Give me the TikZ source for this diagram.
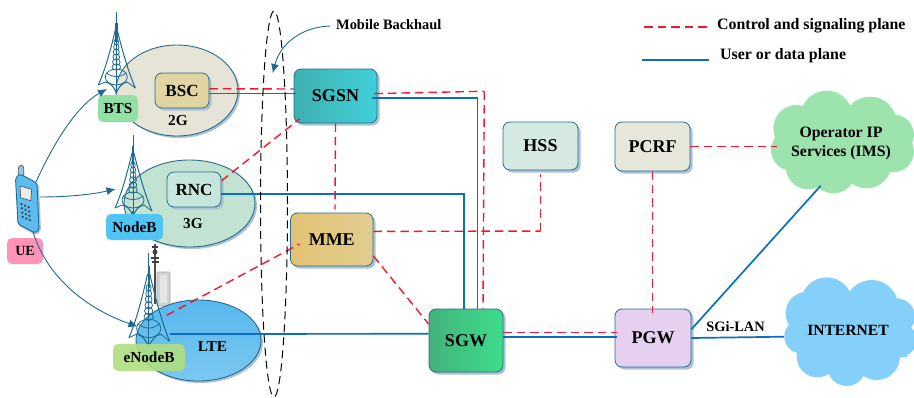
\documentclass[tikz,border=0pt]{standalone}
\usepackage{fontspec}
\setmainfont{Liberation Serif}
\usetikzlibrary{arrows.meta,shapes.geometric,shadows,calc}
\definecolor{edgeb}{HTML}{2A6A8F}
\definecolor{arrowb}{HTML}{1F6A8F}
\definecolor{redl}{HTML}{F0182A}
\definecolor{bluel}{HTML}{0A6FBE}
\definecolor{shadowb}{HTML}{A9C2D4}
\definecolor{ca}{HTML}{9DE3AE}
\definecolor{cb}{HTML}{84D0FA}
\tikzset{
  box/.style={draw=edgeb,line width=.8pt,rounded corners=7pt,inner sep=0pt,font=\fontsize{18}{20}\selectfont\bfseries,
    drop shadow={shadow xshift=2.5pt,shadow yshift=-2.5pt,fill=shadowb,opacity=1}},
  blob/.style={draw=edgeb,line width=.9pt,shape=ellipse,inner sep=0pt,
    drop shadow={shadow xshift=2pt,shadow yshift=-2pt,fill=shadowb,opacity=1}},
  tag/.style={rounded corners=5pt,inner sep=0pt,font=\fontsize{15.3}{17}\selectfont\bfseries},
  lab/.style={inner sep=0pt,font=\fontsize{15.3}{17}\selectfont\bfseries},
  small/.style={inner sep=0pt,font=\fontsize{14.4}{17}\selectfont\bfseries},
  legendtext/.style={inner sep=0pt,font=\fontsize{15.9}{18}\selectfont\bfseries},
  ctrl/.style={draw=redl,line width=1.4pt,dash pattern=on 8.5pt off 5pt},
  data/.style={draw=bluel,line width=1.7pt},
  hop/.style={draw=arrowb,line width=.9pt,-{Latex[length=9pt,width=8pt]}},
  towerline/.style={draw=arrowb,line width=.8pt},
}
\newcommand{\towerart}{%
  \draw[towerline] (0,0)--(0,81);
  \draw[arrowb,line width=2.4pt] (0,11)--(0,30);
  \draw[towerline,line width=1pt] (-1,18) .. controls (-5,35) and (-11,58) .. (-18,73);
  \draw[towerline,line width=1pt] (1,18) .. controls (5,35) and (12,60) .. (19,76);
  \foreach \yy/\rx in {30/2.2,35/2.6,40/3,45/3.4,50/3.8,55/4.3}
    \draw[towerline] (0,\yy) ellipse [x radius=\rx,y radius=3.2];
  \draw[towerline] (0,65) ellipse [x radius=11,y radius=8];
  \draw[towerline,line width=1pt] (-11,70) .. controls (-6,71) and (-3,74) .. (0,81) .. controls (3,74) and (6,71) .. (11,70);
  \draw[towerline] (-10,61) .. controls (-3,66) and (3,66) .. (10,61);
  \draw[towerline] (-11,70) -- (-18,73) (11,70)--(19,76);
  \draw[towerline,line width=1.2pt] (0,76)--(0,81);
}
\begin{document}
\begin{tikzpicture}[x=1pt,y=-1pt]
\useasboundingbox (0,0) rectangle (914,397);

% clouds
\begin{scope}[shift={(600,0)},x=.3333pt,y=-.3333pt]
 \foreach \cx/\cy/\cr in {680/350/78,810/370/80,880/405/62,590/385/70,575/450/62,625/500/68,700/512/68,800/490/75,880/455/62}
   \fill[ca] (\cx,\cy) circle [radius=\cr];
 \fill[ca] (570,370) rectangle (900,500);
\end{scope}
\begin{scope}[shift={(600,200)},x=.3333pt,y=-.3333pt]
 \foreach \cx/\cy/\cr in {680/310/78,815/320/80,890/350/55,622/340/65,603/410/50,652/470/62,740/500/58,830/470/70,900/420/50}
   \fill[cb] (\cx,\cy) circle [radius=\cr];
 \fill[cb] (610,330) rectangle (920,470);
\end{scope}
\node[minimum width=128pt,minimum height=60pt,inner sep=0pt,align=center,font=\fontsize{15.8}{19}\selectfont\bfseries] (ims) at (841,143) {Operator IP\\Services (IMS)};
\node[minimum width=128pt,minimum height=60pt,inner sep=0pt,font=\fontsize{15.6}{17}\selectfont\bfseries] (inet) at (848,330) {INTERNET};

% coverage ellipses
\node[blob,fill={rgb,255:red,230;green,228;blue,214},minimum width=122pt,minimum height=91pt] (gtwo) at (177,90.5) {};
\node[blob,fill={rgb,255:red,194;green,227;blue,210},minimum width=131pt,minimum height=87pt] (gthree) at (189.5,203.5) {};

% LTE mast and cabinet
\fill[gray!35,draw=gray!70,line width=.6pt,rounded corners=1pt] (157,272) rectangle (170,306);
\fill[gray!20] (160,275) rectangle (167,303);
\draw[gray!60!black,line width=2.2pt] (155,244)--(155,304);
\draw[gray!50!black,line width=2pt] (152,247)--(158,247) (151,258)--(159,258) (152,262)--(159,262);
\fill[gray!50!black] (155,252) circle [radius=2.5];

\node[blob,top color={rgb,255:red,88;green,184;blue,238},bottom color={rgb,255:red,122;green,200;blue,240},minimum width=125pt,minimum height=81pt] (lte) at (198.5,340.5) {};

% towers
\begin{scope}[shift={(116.3,12)}]\towerart\end{scope}
\begin{scope}[shift={(133,135)}]\towerart\end{scope}
\begin{scope}[shift={(148.7,253)},yscale=1.16,xscale=1.1]\towerart\end{scope}

% phone
\draw[shadowb,line width=2pt,rounded corners=2pt,xshift=1pt,yshift=-1pt] (16,178)--(37,184)--(39,230)--(35,233)--(18,224)--cycle;
\filldraw[fill=arrowb!40!white,draw=arrowb,line width=.7pt,rounded corners=2.5pt] (18,178)--(18.5,166)--(23.5,165)--(24,180)--cycle;
\filldraw[fill={rgb,255:red,92;green,188;blue,240},draw=arrowb,line width=.9pt,rounded corners=2.5pt] (15.5,178)--(20,174)--(37,183)--(39,230)--(35,233)--(18,224)--cycle;
\filldraw[fill=white!85!gray,draw=black!70,line width=.6pt] (20,186)--(31.7,189.3)--(30.7,200.7)--(20.7,197.7)--cycle;
\foreach \ro in {0,1,2,3}
  \foreach \co in {0,1,2}
    \fill[black!75] ({21.5+\co*3.6+\ro*.4},{204+\ro*4.3+\co*1.6}) circle [radius=1.25];

% text labels in shaded tags
\node[tag,fill={rgb,255:red,146;green,224;blue,166},minimum width=40pt,minimum height=27pt] (bts) at (118,108.5) {BTS};
\node[tag,fill={rgb,255:red,80;green,196;blue,242},minimum width=57pt,minimum height=26pt] (nodeb) at (134.5,227) {NodeB};
\node[tag,fill={rgb,255:red,255;green,148;blue,184},minimum width=36pt,minimum height=26pt,font=\fontsize{14}{16}\selectfont\bfseries] (ue) at (25,251) {UE};
\node[tag,fill={rgb,255:red,176;green,222;blue,130},fill opacity=.9,text opacity=1,minimum width=72pt,minimum height=27pt] (enodeb) at (149,357.5) {eNodeB};
\node[lab] (two) at (178,121) {2G};
\node[lab] (three) at (193,224) {3G};
\node[lab] (ltet) at (212.5,346) {LTE};

% network boxes
\node[box,left color={rgb,255:red,62;green,176;blue,176},right color={rgb,255:red,64;green,208;blue,216},minimum width=83pt,minimum height=54pt] (SGSN) at (335.5,96) {SGSN};
\node[box,fill={rgb,255:red,213;green,232;blue,226},minimum width=75pt,minimum height=48pt] (HSS) at (540.5,146) {HSS};
\node[box,left color={rgb,255:red,227;green,195;blue,115},right color={rgb,255:red,224;green,205;blue,144},minimum width=82.5pt,minimum height=53pt] (MME) at (331.75,239.5) {MME};
\node[box,left color={rgb,255:red,66;green,178;blue,124},right color={rgb,255:red,61;green,220;blue,140},minimum width=74pt,minimum height=63pt] (SGW) at (466,340.5) {SGW};
\node[box,fill={rgb,255:red,230;green,230;blue,218},minimum width=75pt,minimum height=49pt] (PCRF) at (652.5,146.5) {PCRF};
\node[box,fill={rgb,255:red,230;green,208;blue,240},minimum width=76pt,minimum height=58pt] (PGW) at (653,338) {PGW};
\node[box,fill={rgb,255:red,224;green,212;blue,160},minimum width=54pt,minimum height=35pt,font=\fontsize{17}{19}\selectfont\bfseries] (BSC) at (182,90.5) {BSC};
\node[box,fill={rgb,255:red,198;green,230;blue,220},minimum width=54pt,minimum height=35pt,font=\fontsize{17}{19}\selectfont\bfseries] (RNC) at (194,189.5) {RNC};

% free ends
\coordinate (phoneA) at (36,182);
\coordinate (phoneB) at (40,197);
\coordinate (phoneC) at (33,232);
\coordinate (btsport) at (107,89);
\coordinate (nbport) at (115.5,189);
\coordinate (enbport) at (137.5,326.5);
\coordinate (lteR) at (166.7,315.3);
\coordinate (lteB) at (170,334);
\coordinate (imsport) at (820.7,185.7);
\coordinate (sgsnR) at ([yshift=2.4pt,xshift=-3pt]SGSN.east);
\coordinate (sgwR) at ([xshift=17pt]SGW.north);
\coordinate (sgwC) at ([xshift=18.3pt,yshift=217pt]SGW.north);
\coordinate (mmeR) at ([yshift=8.1pt]MME.east);
\coordinate (hssR) at ([yshift=-4pt]HSS.south);

% radio hops
\draw[hop] (phoneA) .. controls (55,140) and (78,105) .. (btsport);
\draw[hop] (phoneB) .. controls (65,197) and (90,195) .. (nbport);
\draw[hop] (phoneC) .. controls (48,280) and (90,310) .. (enbport);

% user plane
\draw[data] ([yshift=-3pt]BSC.east) -- ([yshift=2.5pt,xshift=2pt]SGSN.west);
\draw[data] ([yshift=-2.3pt,xshift=-5pt]SGSN.east) -| ([xshift=11.5pt]SGW.north);
\draw[data] ([yshift=-4.5pt]RNC.east) -| ([xshift=-2pt]SGW.north);
\draw[data] (lteB) -- ([yshift=6.7pt]SGW.west);
\draw[data] ([yshift=3.8pt]SGW.east) -- ([yshift=1.3pt,xshift=2pt]PGW.west);
\draw[data] (PGW.east) -- ([yshift=-6.7pt]inet.west);
\draw[data] ([yshift=8.7pt]PGW.east) -- (imsport);

% control plane
\draw[ctrl] ([yshift=1.8pt]BSC.east) -- ([yshift=7pt]SGSN.west);
\draw[ctrl] (RNC.north east) ++(0,9.3) -- ([xshift=6pt,yshift=4.5pt]SGSN.south west);
\draw[ctrl] (sgsnR) -- ([yshift=.35pt]sgwC);
\draw[ctrl] (sgwC) -- (sgwR);
\draw[ctrl] (SGSN.south) -- ([xshift=3.25pt,yshift=3pt]MME.north);
\draw[ctrl] (mmeR) -- ([yshift=.35pt]mmeR -| hssR);
\draw[ctrl] (mmeR -| hssR) -- (hssR);
\draw[ctrl] ([yshift=-16.5pt]MME.east) -- ([yshift=16.5pt]SGW.west);
\draw[ctrl] (lteR) -- ([xshift=9.5pt,yshift=-4.5pt]MME.west);
\draw[ctrl] ([yshift=8.2pt]SGW.east) -- ([yshift=5.7pt,xshift=2pt]PGW.west);
\draw[ctrl] (PCRF.south) -- ([xshift=-.5pt,yshift=-4pt]PGW.north);
\draw[ctrl] (PCRF.east) -- (PCRF.east -| ims.west);

\node[small] (sgi) at (735.5,327) {SGi-LAN};

% mobile backhaul
\node[draw=black,line width=1pt,dash pattern=on 8pt off 5pt,shape=ellipse,inner sep=0pt,minimum width=27pt,minimum height=386pt] (hauloop) at (274,204) {};
\node[small,anchor=west,font=\fontsize{14.4}{16}\selectfont\bfseries] (haul) at (336,25) {Mobile Backhaul};
\coordinate (haultip) at (272.7,73);
\draw[hop] ([xshift=-6pt,yshift=-1pt]haul.west) .. controls (300,27) and (280,45) .. (haultip);

% legend
\node[legendtext,anchor=west] (ctl) at (717,26) {Control and signaling plane};
\node[legendtext,anchor=west] (usr) at (720,56) {User or data plane};
\coordinate (la) at (644,27); \coordinate (lb) at (708,27);
\coordinate (lc) at (642,60); \coordinate (ld) at (709,60);
\draw[ctrl] (la) -- (lb);
\draw[data] (lc) -- (ld);
\end{tikzpicture}
\end{document}
